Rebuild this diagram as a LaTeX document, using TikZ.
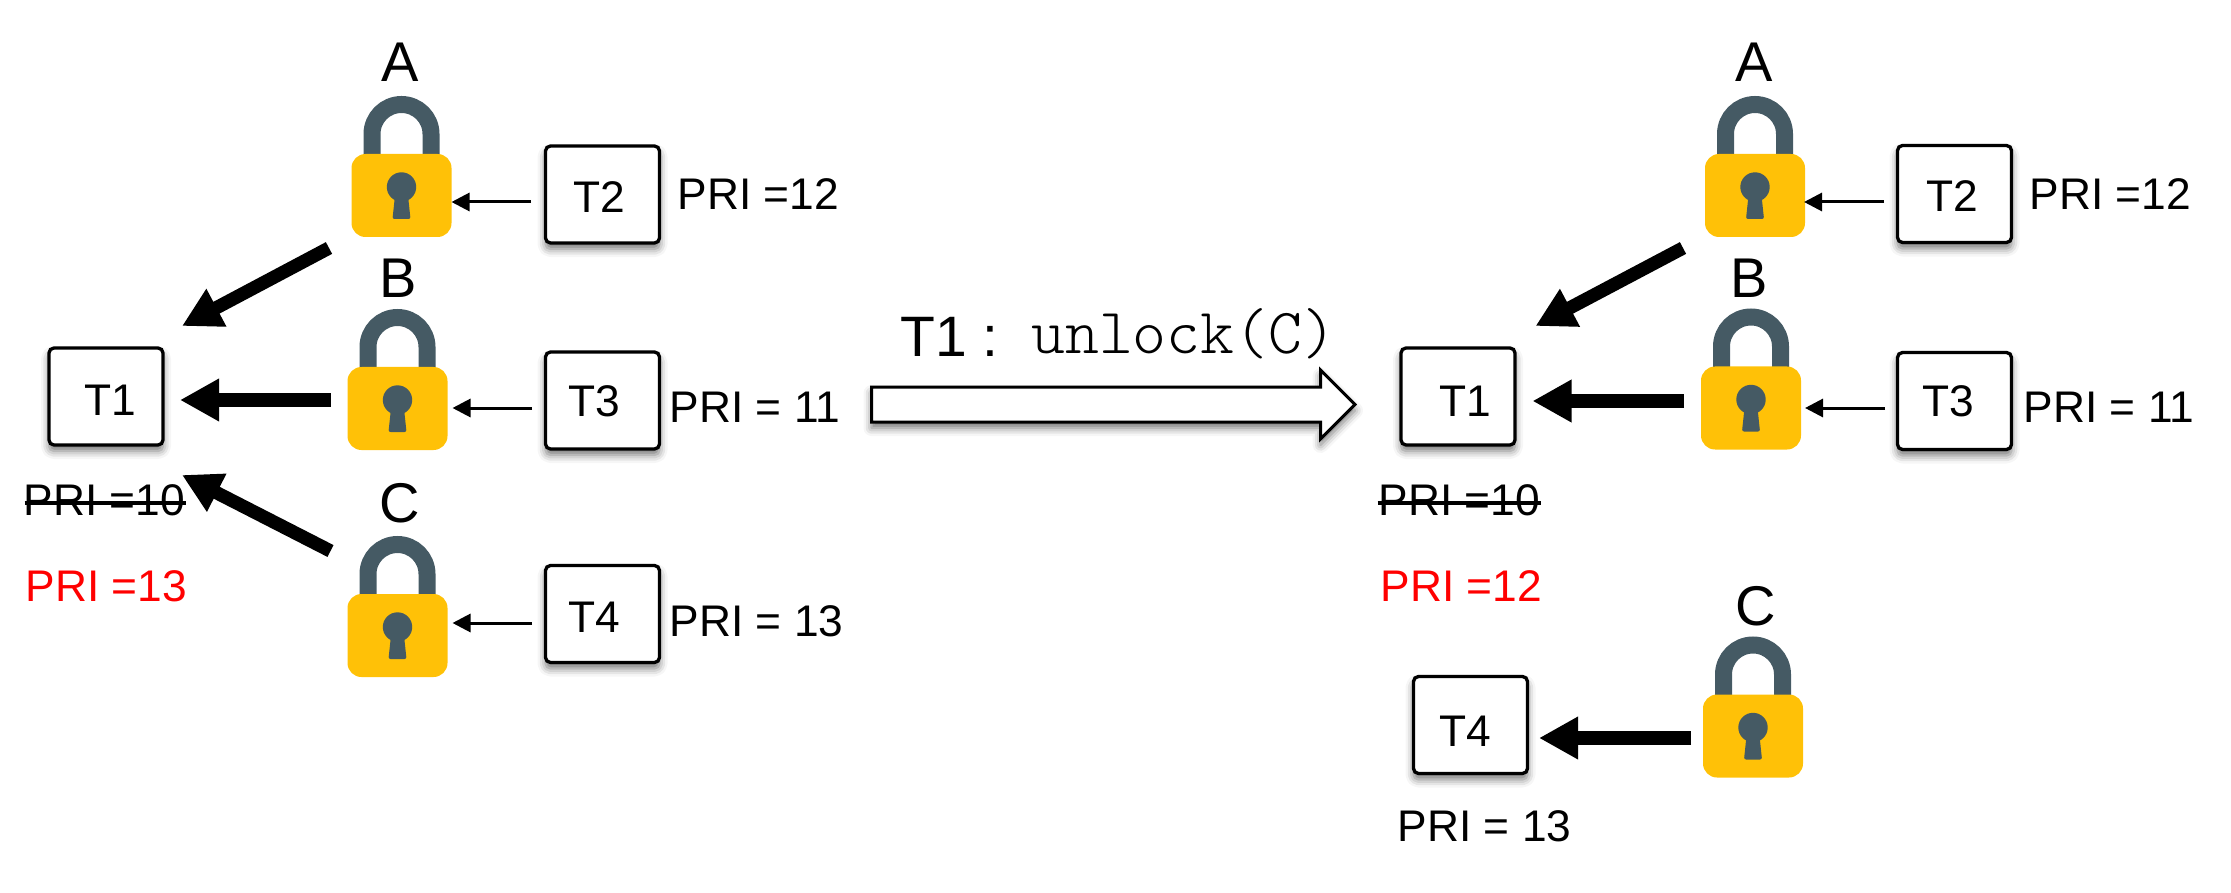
\documentclass[tikz,border=0pt]{standalone}
\usepackage{fontspec}
\setmainfont{Liberation Sans}
\setmonofont{Latin Modern Mono Light}
\usetikzlibrary{arrows.meta, shapes.arrows, shadows.blur}

\definecolor{lockgold}{HTML}{FFC107}
\definecolor{lockslate}{HTML}{455A64}
\newcommand{\tasktext}[3]{\hspace*{#1pt}\hspace*{#1pt}\raisebox{-#2pt}{#3}}

\begin{document}
\begin{tikzpicture}[
    x=1pt, y=-1pt,
    softshadow/.style={blur shadow={shadow xshift=0pt, shadow yshift=-6pt, shadow blur radius=8pt, shadow opacity=55}},
    taskbox/.style={rectangle, draw=black, line width=3.3pt, rounded corners=5pt, fill=white, outer sep=0pt,
        minimum width=114pt, minimum height=97pt, inner sep=0pt, text height=31pt, text depth=0pt,
        font=\fontsize{44.3}{48}\selectfont, softshadow},
    lockbody/.style={rectangle, fill=lockgold, rounded corners=14pt, minimum width=100pt, minimum height=83pt, outer sep=0pt},
    locktag/.style={anchor=base, inner sep=0pt, font=\fontsize{56}{60}\selectfont},
    shackle/.style={draw=lockslate, line width=17pt},
    prilabel/.style={anchor=base west, inner sep=0pt, font=\fontsize{44.3}{48}\selectfont},
    strikeline/.style={line width=3.5pt},
    thinarrow/.style={-{Triangle[length=18pt, width=18pt]}, line width=3pt},
    heavyarrow/.style={-{Triangle[length=39pt, width=40pt]}, line width=13.3pt},
    stagearrow/.style={single arrow, draw=black, line width=3pt, fill=white, anchor=tail, outer sep=0pt, inner xsep=0pt, inner ysep=16pt,
        minimum height=483.5pt, minimum width=66pt, single arrow head extend=17pt, softshadow}
]
    \useasboundingbox (0,0) rectangle (2231,893);

    % --- Padlocks (shackle, body, keyhole, letter) ---
    \foreach \name/\tag/\x/\y/\tx/\ty in {A/A/401.5/195.5/400/82, B/B/397.5/408.5/398/298, C/C/397.5/635.5/399.5/522,
        RA/A/1755/195.5/1754/82, RB/B/1751/408/1749.5/298, RC/C/1753/736/1756/625} {
        \draw[shackle] (\x-29.5,\y-35) -- (\x-29.5,\y-61.5) arc[start angle=180, end angle=0, radius=29.5pt] -- (\x+29.5,\y-35);
        \node[lockbody] (lock\name) at (\x,\y) {};
        \fill[lockslate] (\x,\y-8.5) circle[radius=14.7pt];
        \fill[lockslate, rounded corners=2pt] (\x-6.5,\y) -- (\x-9,\y+23.5) -- (\x+9,\y+23.5) -- (\x+6.5,\y) -- cycle;
        \node[locktag] (tag\name) at (\tx,\ty) {\tag};
    }

    % --- Left side: tasks ---
    \node[taskbox] (T1) at (106,396.5) {\tasktext{4.4}{3}{T1}};
    \node[taskbox] (T2) at (602.5,194.5) {\tasktext{-3.1}{3}{T2}};
    \node[taskbox] (T3) at (602.5,400.5) {\tasktext{-8.1}{1}{T3}};
    \node[taskbox] (T4) at (602.5,614) {\tasktext{-8.1}{2.5}{T4}};

    % --- Left side: priorities ---
    \node[prilabel] (priT2) at (677.5,210) {PRI =12};
    \node[prilabel] (priT3) at (669.6,422) {PRI = 11};
    \node[prilabel] (priT4) at (669.6,636) {PRI = 13};
    \node[prilabel] (priT1old) at (23.6,515) {PRI =10};
    \node[prilabel, red] (priT1new) at (25.6,601) {PRI =13};
    \draw[strikeline] ([shift={(1,-12)}]priT1old.base west) -- ([shift={(1,-12)}]priT1old.base east);

    % --- Left side: arrows ---
    \draw[thinarrow] ([shift={(-14.5,7.5)}]T2.west) -- ([shift={(0,6.5)}]lockA.east);
    \draw[thinarrow] ([shift={(-13.5,7.5)}]T3.west) -- ([shift={(5,-0.5)}]lockB.east);
    \draw[thinarrow] ([shift={(-13.5,9)}]T4.west) -- ([shift={(5,-12.5)}]lockC.east);
    \draw[heavyarrow] ([shift={(-22.5,11)}]lockA.south west) -- ([shift={(19,-22)}]T1.north east);
    \draw[heavyarrow] ([shift={(-17,-8.5)}]lockB.west) -- ([shift={(17,3.5)}]T1.east);
    \draw[heavyarrow] ([shift={(-17,-43)}]lockC.north west) -- ([shift={(19,30)}]T1.south east);

    % --- Middle: the step between both states ---
    \node[stagearrow] (step1) at (871.5,404.5) {};
    \node[anchor=base west, inner sep=0pt, font=\fontsize{57}{60}\selectfont] (stepText) at (900,356)
        {T1 :\hspace{33pt}\raisebox{3pt}{\fontsize{64.5}{66}\selectfont\ttfamily unlock(C)}};

    % --- Right side: tasks ---
    \node[taskbox] (T1R) at (1458,396.5) {\tasktext{7.4}{4}{T1}};
    \node[taskbox] (T2R) at (1954.5,194) {\tasktext{-2.1}{2.5}{T2}};
    \node[taskbox] (T3R) at (1954.5,401) {\tasktext{-6.1}{0.5}{T3}};
    \node[taskbox] (T4R) at (1470.5,725) {\tasktext{-5.1}{5.5}{T4}};

    % --- Right side: priorities ---
    \node[prilabel] (priT2R) at (2029.6,210) {PRI =12};
    \node[prilabel] (priT3R) at (2023.6,422) {PRI = 11};
    \node[prilabel] (priT4R) at (1397.6,841) {PRI = 13};
    \node[prilabel] (priT1Rold) at (1378.6,515) {PRI =10};
    \node[prilabel, red] (priT1Rnew) at (1380.6,601) {PRI =12};
    \draw[strikeline] ([shift={(-1,-12)}]priT1Rold.base west) -- ([shift={(1,-12)}]priT1Rold.base east);

    % --- Right side: arrows ---
    \draw[thinarrow] ([shift={(-13.5,8)}]T2R.west) -- ([shift={(-1,6.5)}]lockRA.east);
    \draw[thinarrow] ([shift={(-12.5,7)}]T3R.west) -- ([shift={(4,0)}]lockRB.east);
    \draw[heavyarrow] ([shift={(-22,11)}]lockRA.south west) -- ([shift={(20.5,-22)}]T1R.north east);
    \draw[heavyarrow] ([shift={(-17,-7)}]lockRB.west) -- ([shift={(17.5,4.5)}]T1R.east);
    \draw[heavyarrow] ([shift={(-12,2)}]lockRC.west) -- ([shift={(11.5,13)}]T4R.east);
\end{tikzpicture}
\end{document}
